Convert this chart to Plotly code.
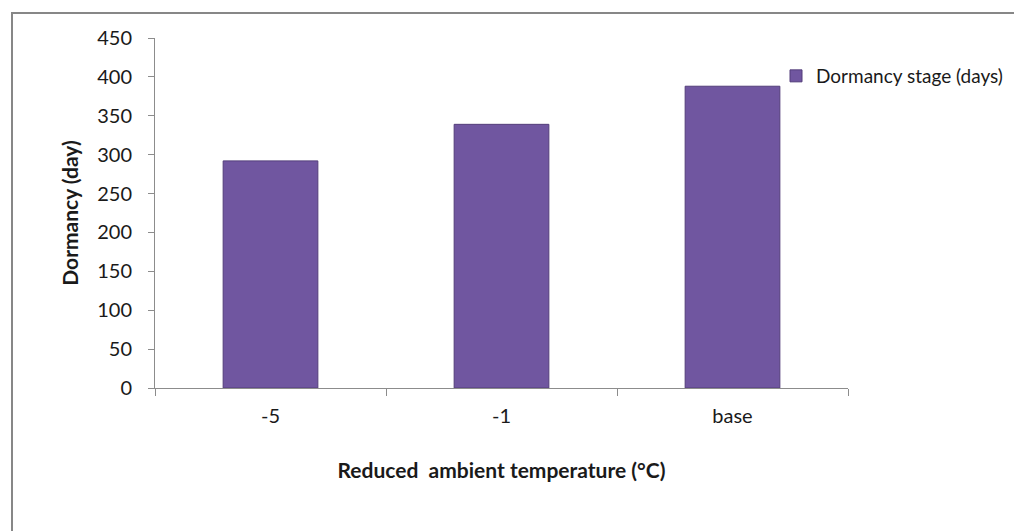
import plotly.graph_objects as go

# Dormancy length for each reduced ambient temperature scenario
categories = ["-5", "-1", "base"]
dormancy_days = [292, 339, 388]
series_name = "Dormancy stage (days)"
y_ticks = [0, 50, 100, 150, 200, 250, 300, 350, 400, 450]

W, H = 1014, 531
L, R, T, B = 155, 166, 38, 143
plot_w = W - L - R
plot_h = H - T - B

def px_x(px):
    return (px - L) / plot_w

def px_y(py):
    return (H - B - py) / plot_h

font_family = "Lato, 'Open Sans', sans-serif"
axis_grey = "#8c8c8c"
text_col = "#1a1a1a"

fig = go.Figure()
fig.add_trace(go.Bar(
    x=categories,
    y=dormancy_days,
    name=series_name,
    marker=dict(color="#7056a0", line=dict(color="#533d7a", width=1)),
    showlegend=True,
))

fig.update_layout(
    width=W,
    height=H,
    margin=dict(l=L, r=R, t=T, b=B, autoexpand=False),
    paper_bgcolor="white",
    plot_bgcolor="white",
    bargap=0.59,
    font=dict(family=font_family, size=20, color=text_col),
    showlegend=True,
    legend=dict(
        x=px_x(776), y=px_y(76), xanchor="left", yanchor="middle",
        font=dict(family=font_family, size=19, color=text_col),
        bgcolor="rgba(0,0,0,0)", itemwidth=30,
    ),
    xaxis=dict(
        showline=True, linecolor=axis_grey, linewidth=1,
        ticks="outside", tickson="boundaries", ticklen=7, tickcolor=axis_grey,
        showgrid=False, zeroline=False,
        tickfont=dict(size=20), ticklabelstandoff=10,
        title=dict(text="<b>Reduced  ambient temperature (°C)</b>",
                   font=dict(size=21), standoff=37),
    ),
    yaxis=dict(
        range=[0, 450], tickvals=y_ticks,
        showline=True, linecolor=axis_grey, linewidth=1,
        ticks="outside", ticklen=6, tickcolor=axis_grey,
        showgrid=False, zeroline=False,
        tickfont=dict(size=20), ticklabelstandoff=12,
        title=dict(text="<b>Dormancy (day)</b>", font=dict(size=21), standoff=12),
    ),
    shapes=[
        dict(type="rect", xref="paper", yref="paper",
             x0=px_x(12), x1=px_x(1100), y0=px_y(600), y1=px_y(13),
             line=dict(color="#878787", width=2), fillcolor="rgba(0,0,0,0)",
             layer="below"),
    ],
)

fig.write_html("out.html")
